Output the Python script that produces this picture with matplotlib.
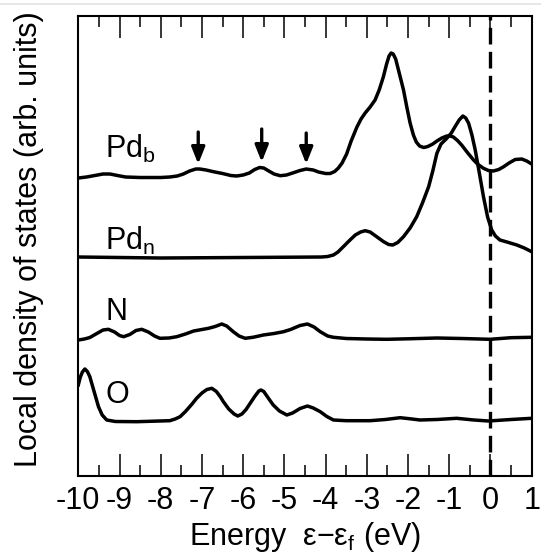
"""Local density of states for Pd_b, Pd_n, N and O (offset curves)."""
import matplotlib
matplotlib.use("Agg")
import matplotlib.pyplot as plt
from matplotlib.lines import Line2D
from matplotlib.ticker import MultipleLocator

plt.rcParams["font.family"] = ["Liberation Sans", "DejaVu Sans"]
plt.rcParams["axes.unicode_minus"] = False

# curves: energy (eV) and offset LDOS (arb. units, already stacked)
pdb_e = [-10.0, -9.8, -9.6, -9.4, -9.23, -9.05, -8.85, -8.5, -8.0, -7.78,
         -7.6, -7.45, -7.3, -7.15, -7.05, -6.9, -6.72, -6.5, -6.3, -6.16,
         -6.0, -5.85, -5.72, -5.6, -5.5, -5.4, -5.25, -5.1, -4.95, -4.8,
         -4.62, -4.47, -4.3, -4.17, -4.0, -3.89, -3.78, -3.69, -3.6, -3.49,
         -3.38, -3.24, -3.14, -3.04, -2.92, -2.80, -2.70, -2.60, -2.52, -2.46,
         -2.41, -2.36, -2.30, -2.22, -2.11, -2.03, -1.95, -1.87, -1.8, -1.72,
         -1.62, -1.52, -1.40, -1.30, -1.18, -1.06, -0.98, -0.90, -0.80, -0.70,
         -0.55, -0.41, -0.30, -0.17, -0.05, 0.07, 0.20, 0.32, 0.45, 0.60,
         0.76, 0.88, 1.0]
pdb_y = [298, 299, 300.5, 302, 302, 300.5, 299, 298.5, 298.5, 299,
         300, 302, 305, 307, 307, 306, 304.3, 302.5, 300.5, 300,
         301, 303, 306.5, 308.5, 308, 305.5, 302, 300.3, 301, 303,
         305.5, 307, 306, 304, 302.5, 302.5, 304.5, 308, 313, 322,
         335, 349, 357, 363, 369, 376, 386, 399, 412, 420,
         423, 422, 417, 404, 386, 369, 353, 341, 334, 330,
         328.5, 329.5, 332, 335, 338, 340, 340, 339, 335.5, 331,
         323, 316, 311.5, 307.7, 305.5, 305, 306.5, 309.3, 313, 316.5,
         317, 315, 312]

pdn_e = [-10.0, -8.0, -6.0, -4.1, -3.95, -3.81, -3.7, -3.57, -3.42, -3.28,
         -3.15, -3.04, -2.92, -2.76, -2.6, -2.47, -2.37, -2.25, -2.11, -1.95,
         -1.79, -1.65, -1.50, -1.40, -1.30, -1.20, -1.06, -0.95, -0.86, -0.76,
         -0.67, -0.60, -0.53, -0.45, -0.37, -0.27, -0.17, -0.07, 0.03, 0.12,
         0.23, 0.40, 0.64, 0.82, 1.0]
pdn_y = [219, 218, 218.5, 219, 219.5, 221, 224, 229.3, 235.5, 241,
         244, 245.3, 244, 239.3, 234.5, 231.5, 231, 233.5, 239.3, 248,
         259.3, 273, 289.3, 305, 322.7, 332, 337.7, 343, 349.3, 356,
         360, 358, 352.7, 341, 326, 303, 279.3, 259, 246, 240,
         236, 234, 231, 228, 224.3]

n_e = [-10.0, -9.85, -9.72, -9.55, -9.4, -9.27, -9.12, -9.0, -8.9, -8.75,
       -8.6, -8.46, -8.3, -8.15, -8.02, -7.8, -7.61, -7.4, -7.2, -7.0,
       -6.84, -6.68, -6.52, -6.4, -6.24, -6.1, -5.95, -5.75, -5.51, -5.25,
       -5.02, -4.85, -4.62, -4.44, -4.28, -4.13, -3.95, -3.81, -3.5, -3.0,
       -2.52, -2.0, -1.30, -0.7, -0.01, 0.5, 1.0]
n_y = [136, 137, 138.5, 142.5, 146, 146.7, 144, 140.5, 139.3, 141.5,
       145.5, 146.7, 144, 140, 137.7, 138, 139.3, 142, 145, 146.5,
       147.7, 149.5, 152, 150, 144.3, 140, 137.7, 138.8, 141, 142.5,
       144.3, 146.5, 150.5, 152, 149, 144.3, 140, 138.7, 137.5, 137,
       136.7, 137.2, 138, 137.5, 136.7, 138.3, 138.7]

o_e = [-10.0, -9.95, -9.90, -9.84, -9.78, -9.72, -9.62, -9.51, -9.42, -9.31,
       -9.1, -8.58, -7.78, -7.65, -7.53, -7.4, -7.25, -7.13, -7.0, -6.88,
       -6.76, -6.65, -6.55, -6.48, -6.35, -6.22, -6.13, -6.03, -5.93, -5.83,
       -5.72, -5.62, -5.57, -5.50, -5.40, -5.27, -5.12, -4.94, -4.80, -4.62,
       -4.44, -4.30, -4.13, -3.97, -3.81, -3.5, -2.92, -2.55, -2.19, -1.95,
       -1.71, -1.3, -0.82, -0.4, -0.05, 0.5, 1.0]
o_y = [91, 99, 104, 107, 104.5, 99.3, 85, 69.3, 61, 56,
       54.5, 54.3, 55.3, 57, 59.3, 64.5, 71.5, 77.7, 83, 86.5,
       87.7, 84.5, 79, 74.3, 67, 62, 60, 62, 66.5, 72.7,
       79.5, 85, 86, 84.5, 78.5, 71, 65, 61, 63, 67.5,
       70, 68, 64.3, 59.5, 56, 55.3, 55.3, 56.5, 58.3, 57.2,
       56, 56.5, 57.7, 56, 55, 56.5, 57.7]

# labels of the curves
labels = ["Pd$_\\mathregular{b}$", "Pd$_\\mathregular{n}$", "N", "O"]
label_x = [-9.35, -9.35, -9.33, -9.33]
label_y = [318, 226, 156, 73]

# arrows marking the Pd_b features
arrow_e = [-7.09, -5.55, -4.47]
arrow_top = [344, 347, 343]
arrow_tip = [312, 314, 312]

fig = plt.figure(figsize=(5.41, 5.54), dpi=100)
ax = fig.add_axes([0.1447, 0.1408, 0.9828 - 0.1447, 0.9711 - 0.1408])

for e, y in [(pdb_e, pdb_y), (pdn_e, pdn_y), (n_e, n_y), (o_e, o_y)]:
    ax.plot(e, y, color="black", lw=2.5, solid_joinstyle="round")

ax.axvline(0, color="black", lw=2.4, ls=(0, (5, 2.2)))

for t, x, y in zip(labels, label_x, label_y):
    ax.text(x, y, t, fontsize=22, va="baseline", ha="left")

for e, top, tip in zip(arrow_e, arrow_top, arrow_tip):
    ax.annotate("", xy=(e, tip), xytext=(e, top),
                arrowprops=dict(arrowstyle="-|>,head_width=0.2,head_length=0.5",
                                lw=2.4, color="black", mutation_scale=20,
                                shrinkA=0, shrinkB=0))

ax.set_xlim(-10, 1)
ax.set_ylim(0, 460)
ax.set_yticks([])
ax.set_xticks(range(-10, 2))
ax.set_xticklabels([str(v) for v in range(-10, 2)])
ax.xaxis.set_minor_locator(MultipleLocator(0.5))
ax.tick_params(axis="x", which="both", direction="in", top=True,
               labelsize=22, pad=7)
ax.tick_params(axis="x", which="major", length=16, width=1.1)
ax.tick_params(axis="x", which="minor", length=8, width=1.1)
for sp in ax.spines.values():
    sp.set_linewidth(1.5)

ax.set_xlabel("Energy  ε−ε$_\\mathregular{f}$ (eV)", fontsize=22, labelpad=3)
ax.set_ylabel("Local density of states (arb. units)", fontsize=22)
ax.yaxis.set_label_coords(-0.076, 0.515)

# faint frame line at the very top of the picture
fig.add_artist(Line2D([0, 1], [1 - 3.5 / 554] * 2, color="#e3e3e3", lw=1.2))

fig.savefig("out.png", dpi=100)
